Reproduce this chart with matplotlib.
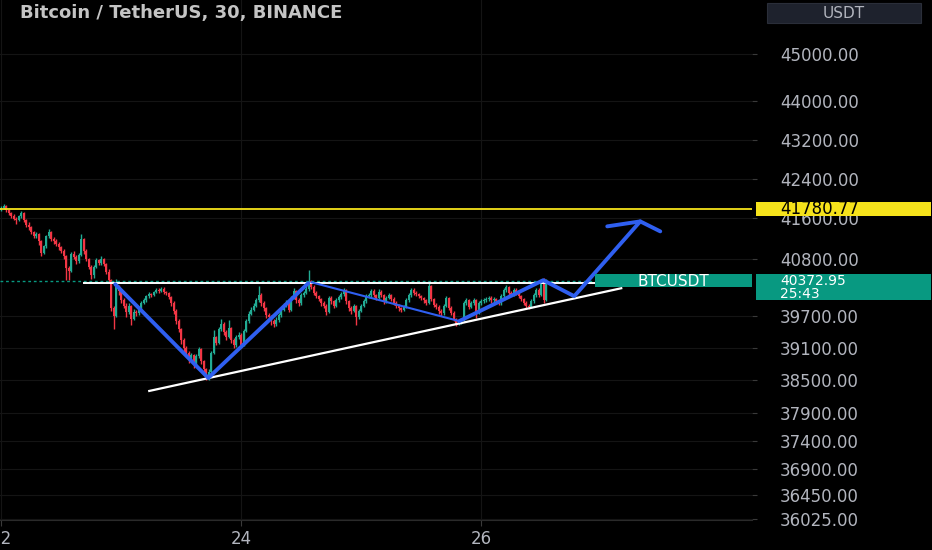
import matplotlib

matplotlib.use("Agg")
import matplotlib.pyplot as plt
from matplotlib.patches import Rectangle
from matplotlib.ticker import FixedLocator, FuncFormatter, NullLocator

BG = "#000000"
UP, DOWN = "#22ab94", "#f23645"
BLUE = "#2f5ff0"
YELLOW = "#f5e21b"
TEAL = "#089981"
TXT = "#b2b5be"

# ---- 30-minute candles (open = previous close) ----
first_open = 41760
closes = [
    41800, 41850, 41760, 41700, 41650, 41590, 41560, 41640, 41700, 41560,
    41480, 41430, 41330, 41260, 41300, 41150, 40920, 41050, 41250, 41330,
    41200, 41150, 41100, 41030, 40960, 40850, 40620, 40560, 40900, 40840,
    40760, 40880, 41200, 40950, 40800, 40650, 40480, 40650, 40780, 40720,
    40800, 40700, 40550, 40400, 39850, 39700, 40250, 40180, 40000, 39900,
    39780, 39900, 39650, 39780, 39760, 39850, 39960, 40000, 40080, 40120,
    40100, 40160, 40200, 40180, 40220, 40160, 40140, 40060, 39950, 39800,
    39600, 39450, 39250, 39100, 39000, 38880, 38960, 38780, 38950, 39080,
    38850, 38700, 38540, 38650, 39000, 39300, 39200, 39450, 39550, 39400,
    39300, 39480, 39250, 39150, 39300, 39350, 39150, 39420, 39600, 39750,
    39820, 39900, 40000, 40100, 39950, 39850, 39720, 39680, 39600, 39560,
    39620, 39720, 39820, 39900, 39960, 39820, 40050, 40180, 40000, 39950,
    40100, 40150, 40220, 40380, 40260, 40150, 40080, 40020, 39950, 39900,
    39780, 40050, 39980, 39900, 40000, 40060, 40120, 40200, 39980, 39850,
    39800, 39900, 39680, 39800, 39900, 39980, 40080, 40100, 40180, 40100,
    40050, 40170, 40100, 39980, 40050, 40100, 40030, 39950, 39900, 39850,
    39820, 39880, 40000, 40100, 40200, 40150, 40120, 40080, 40040, 40000,
    39960, 40280, 40020, 39920, 39880, 39800, 39760, 39900, 40050, 39860,
    39760, 39640, 39560, 39580, 39620, 39950, 40000, 39880, 39950, 40000,
    39780, 39950, 39980, 40000, 40020, 40050, 40000, 40020, 39980, 39950,
    40080, 40200, 40250, 40150, 40120, 40200, 40150, 40080, 40020, 39950,
    39900, 39880, 39980, 40100, 40200, 40100, 40350, 40000, 40372.95,
]
highs = [
    41840, 41880, 41860, 41780, 41730, 41680, 41620, 41670, 41740, 41720,
    41590, 41520, 41460, 41360, 41340, 41320, 41180, 41080, 41280, 41400,
    41350, 41240, 41190, 41130, 41060, 41000, 40880, 40660, 40940, 40950,
    40880, 40920, 41290, 41220, 40990, 40830, 40680, 40690, 40820, 40800,
    40850, 40830, 40730, 40600, 40420, 39900, 40420, 40300, 40220, 40050,
    39950, 39960, 39920, 39830, 39820, 39880, 39990, 40040, 40110, 40160,
    40150, 40190, 40240, 40230, 40260, 40250, 40190, 40170, 40090, 39980,
    39830, 39640, 39480, 39280, 39130, 39040, 39000, 38990, 38990, 39120,
    39100, 38880, 38730, 38700, 39050, 39440, 39330, 39500, 39640, 39580,
    39430, 39620, 39500, 39280, 39340, 39400, 39380, 39460, 39640, 39790,
    39870, 39950, 40040, 40280, 40150, 39990, 39880, 39760, 39720, 39640,
    39680, 39760, 39860, 39950, 40010, 39990, 40090, 40230, 40200, 40040,
    40140, 40190, 40270, 40580, 40400, 40290, 40180, 40110, 40050, 39990,
    39930, 40090, 40080, 40010, 40040, 40100, 40160, 40240, 40220, 40010,
    39890, 39940, 39920, 39840, 39940, 40020, 40120, 40150, 40220, 40210,
    40130, 40210, 40200, 40130, 40090, 40140, 40130, 40060, 39990, 39930,
    39880, 39920, 40040, 40140, 40240, 40230, 40180, 40150, 40110, 40070,
    40030, 40330, 40300, 40050, 39950, 39910, 39830, 39940, 40090, 40070,
    39890, 39790, 39670, 39620, 39660, 39990, 40040, 40030, 39990, 40040,
    40020, 39990, 40020, 40040, 40060, 40090, 40080, 40060, 40050, 40010,
    40120, 40240, 40290, 40280, 40180, 40240, 40230, 40180, 40110, 40050,
    39980, 39930, 40020, 40140, 40240, 40230, 40420, 40440, 40420,
]
lows = [
    41740, 41780, 41720, 41660, 41610, 41560, 41500, 41540, 41610, 41520,
    41440, 41380, 41290, 41210, 41220, 41080, 40860, 40900, 41020, 41220,
    41160, 41100, 41060, 40980, 40920, 40800, 40400, 40400, 40540, 40800,
    40700, 40730, 40850, 40900, 40760, 40600, 40420, 40440, 40620, 40680,
    40690, 40660, 40500, 40350, 39800, 39450, 39680, 40100, 39950, 39850,
    39680, 39740, 39540, 39620, 39700, 39730, 39820, 39930, 39970, 40050,
    40060, 40080, 40140, 40150, 40160, 40130, 40110, 40030, 39900, 39750,
    39550, 39400, 39180, 39000, 38950, 38820, 38850, 38720, 38750, 38920,
    38800, 38650, 38500, 38510, 38620, 38980, 39150, 39180, 39420, 39350,
    39250, 39280, 39200, 39100, 39120, 39260, 39100, 39130, 39400, 39570,
    39720, 39790, 39870, 39970, 39900, 39800, 39670, 39620, 39540, 39500,
    39520, 39590, 39690, 39790, 39870, 39780, 39800, 40020, 39950, 39900,
    39920, 40070, 40120, 40190, 40220, 40110, 40040, 39980, 39900, 39850,
    39720, 39760, 39940, 39860, 39880, 39970, 40030, 40090, 39940, 39800,
    39740, 39770, 39540, 39650, 39770, 39870, 39950, 40050, 40070, 40060,
    40010, 40030, 40060, 39940, 39950, 40020, 39990, 39910, 39860, 39800,
    39770, 39790, 39860, 39970, 40070, 40110, 40080, 40040, 40000, 39960,
    39920, 39940, 39980, 39880, 39840, 39750, 39700, 39730, 39870, 39820,
    39720, 39600, 39520, 39530, 39550, 39600, 39920, 39840, 39850, 39920,
    39660, 39750, 39920, 39950, 39970, 39990, 39960, 39970, 39940, 39910,
    39920, 40050, 40160, 40110, 40080, 40090, 40110, 40040, 39980, 39910,
    39860, 39840, 39850, 39950, 40070, 40060, 40080, 39960, 39980,
]
opens = [first_open] + closes[:-1]

# ---- axis ticks ----
price_ticks = [45000, 44000, 43200, 42400, 41600, 40800, 39700, 39100,
               38500, 37900, 37400, 36900, 36450, 36025]
day_ticks = [0, 96, 192]          # candle index of each day start
day_labels = ["22", "24", "26"]

# ---- drawings (candle index, price) ----
resist_level = 40331
resist_x = [33.2, 238]
support_x = [59.2, 248]
support_y = [38304, 40234]
vee_x = [45.6, 82.8, 122.8]
vee_y = [40311, 38543, 40331]
slope_x = [124, 183.2]
slope_y = [40350, 39606]
proj_x = [183.2, 216.8, 229.2, 255.6]
proj_y = [39606, 40389, 40081, 41542]
head_x = [242.4, 255.6, 263.6]
head_y = [41443, 41542, 41344]
level_yellow = 41780.77
last_price = 40372.95

W, H = 932, 550
fig = plt.figure(figsize=(W / 100, H / 100), dpi=100, facecolor=BG)
ax = fig.add_axes([0, 1 - 520 / H, 752 / W, 520 / H])
ax.set_facecolor(BG)
ax.set_yscale("log")
ax.set_ylim(36010, 46185)
ax.set_xlim(-0.5, 300.3)

ax.yaxis.set_major_locator(FixedLocator(price_ticks))
ax.yaxis.set_minor_locator(NullLocator())
ax.yaxis.set_major_formatter(FuncFormatter(lambda v, p: f"{v:.2f}"))
ax.yaxis.tick_right()
ax.tick_params(axis="y", length=3.6, pad=16.5, colors="#3a3a3a",
               labelcolor=TXT, labelsize=12)
ax.set_xticks(day_ticks)
ax.set_xticklabels(day_labels)
ax.tick_params(axis="x", length=4, pad=3.5, colors="#3a3a3a",
               labelcolor=TXT, labelsize=12)
ax.grid(True, color="#141414", lw=0.8, zorder=0)
for s in ("top", "right", "left"):
    ax.spines[s].set_visible(False)
ax.spines["bottom"].set_color("#2a2a2a")

# ---- candles ----
idx = list(range(len(closes)))
cols = [UP if c >= o else DOWN for o, c in zip(opens, closes)]
ax.vlines(idx, lows, highs, colors=cols, lw=1.0, zorder=2)
ax.bar(idx, [abs(c - o) for o, c in zip(opens, closes)], width=0.88,
       bottom=[min(o, c) for o, c in zip(opens, closes)], color=cols,
       linewidth=0, zorder=3)

# ---- levels and drawings ----
ax.axhline(level_yellow, color=YELLOW, lw=1.3, zorder=4)
ax.axhline(last_price, color=TEAL, lw=1.0, ls=(0, (2, 2)), zorder=4)
ax.plot(resist_x, [resist_level] * 2, color="white", lw=1.4, zorder=5)
ax.plot(support_x, support_y, color="white", lw=1.6, zorder=5)
kw = dict(color=BLUE, solid_capstyle="round", solid_joinstyle="round", zorder=6)
ax.plot(vee_x, vee_y, lw=2.8, **kw)
ax.plot(slope_x, slope_y, lw=1.5, **kw)
ax.plot(proj_x, proj_y, lw=2.8, **kw)
ax.plot(head_x, head_y, lw=2.8, **kw)


def fig_y(price):
    return ax.transData.transform((0, price))[1] / fig.bbox.height


def tag(price, above, below, face, lines, color, size):
    y = fig_y(price)
    fig.patches.append(Rectangle((756 / W, y - below / H), 175 / W,
                                 (above + below) / H, transform=fig.transFigure,
                                 facecolor=face, edgecolor="none", zorder=10))
    for k, t in enumerate(lines):
        fig.text(780 / W, y - k * 13 / H, t, color=color, fontsize=size,
                 va="center", ha="left", zorder=11)


tag(level_yellow, 7, 7, YELLOW, ["41780.77"], "#000000", 12)
tag(last_price, 7, 19, TEAL, ["40372.95", "25:43"], "white", 10)

# symbol label on the price line
yb = fig_y(last_price)
fig.patches.append(Rectangle((595 / W, yb - 6 / H), 157 / W, 13 / H,
                             transform=fig.transFigure, facecolor=TEAL,
                             edgecolor="none", zorder=10))
fig.text(673 / W, yb, "BTCUSDT", color="white", fontsize=11, ha="center",
         va="center", zorder=11)

# currency button
fig.patches.append(Rectangle((767 / W, 1 - 23 / H), 154 / W, 20 / H,
                             transform=fig.transFigure, facecolor="#1e222d",
                             edgecolor="#2a2e39", lw=0.8, zorder=10))
fig.text(844 / W, 1 - 13 / H, "USDT", color=TXT, fontsize=11, ha="center",
         va="center", zorder=11)

fig.text(20 / W, 1 - 13 / H, "Bitcoin / TetherUS, 30, BINANCE", color="#c4c4c4",
         fontsize=13, fontweight="bold", ha="left", va="center")

fig.savefig("out.png", dpi=100, facecolor=BG)
